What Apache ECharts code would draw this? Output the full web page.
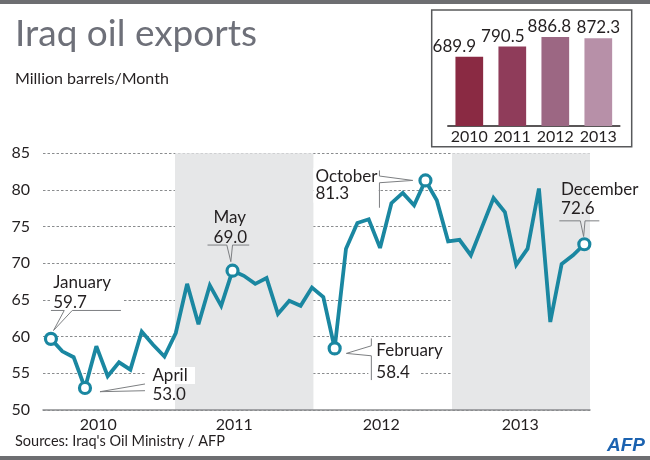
<!DOCTYPE html>
<html>
<head>
<meta charset="utf-8">
<script src="https://cdn.jsdelivr.net/npm/echarts@6/dist/echarts.min.js"></script>
<style>html,body{margin:0;padding:0;background:#fff}#c{width:650px;height:460px}</style>
</head>
<body>
<div id="c"></div>
<script>
// ---- data ----
const years = ['2010', '2011', '2012', '2013'];
const monthNames = ['January','February','March','April','May','June','July','August','September','October','November','December'];
const exports2010 = [59.7, 58.0, 57.2, 53.0, 58.7, 54.6, 56.5, 55.5, 60.7, 58.9, 57.3, 60.5];
const exports2011 = [67.2, 61.7, 67.0, 64.2, 69.0, 68.3, 67.2, 68.0, 63.1, 64.9, 64.2, 66.7];
const exports2012 = [65.4, 58.4, 72.0, 75.5, 76.0, 72.1, 78.2, 79.6, 77.9, 81.3, 78.6, 73.0];
const exports2013 = [73.2, 71.1, 75.0, 78.9, 77.0, 69.8, 72.0, 80.2, 62.0, 69.9, 71.1, 72.6];
const annualTotals = [689.9, 790.5, 886.8, 872.3];
const yMin = 50, yMax = 85, yStep = 5;
const highlightIdx = [0, 3, 16, 25, 33, 47];

// ---- layout / style ----
const FONT = 'Lato';
const TEXT = '#231f20';
const TEAL = '#1a87a1';
const BAND = '#e6e7e8';
const LEAD = '#7d7f82';
const barColors = ['#8a2a43', '#8f3c5a', '#9c6783', '#b790a8'];
const barLabelShift = [-15, -9.5, -6, 0];
const bandRanges = [[10.93, 23.13], [35.34, 47.5]];
const yearLabelPos = [4.17, 16.15, 29.1, 41.35];

// callout layout offsets relative to the marked point
const callouts = [
  { idx: 0, tx: 2.3, ty1: -56.7, ty2: -36.7, bg: '#fff', mask: [0, -66, 72, -29],
    lead: [[0,-28.4],[13.3,-28.4],[2.6,-8.4],[21.3,-28.4],[70,-28.4]] },
  { idx: 3, tx: 67.4, ty1: -12.5, ty2: 6.5, bg: '#fff', mask: [60, -21, 110, -4],
    lead: [[60,-4],[15,3.7],[60,2.7]] },
  { idx: 16, tx: -19, ty1: -52.8, ty2: -33.3, bg: BAND, mask: [-25, -60, 25, -26],
    lead: [[-25,-25.6],[-5.7,-25.6],[-1.7,-9],[0,-25.6],[16.7,-25.6]] },
  { idx: 25, tx: 41.7, ty1: 1.7, ty2: 23.7, bg: '#fff', mask: [33.7, -5, 86, 31.7],
    lead: [[36.7,-10],[36.7,-2.6],[11.7,5],[36.7,7.4],[36.7,31.7]] },
  { idx: 33, tx: -110, ty1: -3.7, ty2: 12.8, bg: '#fff', mask: [-112, -12.7, -47, 22.3],
    lead: [[-46,-10],[-46,-4.4],[-12.7,0],[-46,2.3],[-46,27.3]] },
  { idx: 47, tx: -23.3, ty1: -55.2, ty2: -36.2, bg: BAND, mask: [-28, -63, 5, -24],
    lead: [[-25,-23.4],[-4,-23.4],[-0.7,-7.7],[0.7,-23.4],[15,-23.4]] }
];

const values = [].concat(exports2010, exports2011, exports2012, exports2013);
const lineData = values.map((v, i) => [i, v]);
const pointData = highlightIdx.map(i => [i, values[i]]);

const chart = echarts.init(document.getElementById('c'));

const staticGraphics = [
  { type: 'rect', shape: { x: 0, y: 0, width: 650, height: 4 }, style: { fill: '#6d6e71' }, z: 10 },
  { type: 'rect', shape: { x: 0, y: 456, width: 650, height: 4 }, style: { fill: '#6d6e71' }, z: 10 },
  { type: 'text', x: 15, y: 34, style: { text: 'Iraq oil exports', fill: '#6e7079', fontSize: 37, fontFamily: FONT, verticalAlign: 'middle' }, z: 10 },
  { type: 'text', x: 15, y: 79, style: { text: 'Million barrels/Month', fill: TEXT, fontSize: 16, fontFamily: FONT, verticalAlign: 'middle' }, z: 10 },
  { type: 'text', x: 15, y: 441, style: { text: "Sources: Iraq's Oil Ministry / AFP", fill: TEXT, fontSize: 14.5, fontFamily: FONT, verticalAlign: 'middle' }, z: 10 },
  { type: 'text', x: 645, y: 446, style: { text: 'AFP', fill: '#1b62b0', fontSize: 19, fontWeight: 'bold', fontStyle: 'italic', fontFamily: 'Liberation Sans', align: 'right', verticalAlign: 'middle' }, z: 10 },
  { type: 'rect', shape: { x: 431.7, y: 10, width: 200, height: 136.7 }, style: { fill: null, stroke: '#58595b', lineWidth: 1.5 }, z: 10 }
];

chart.setOption({
  animation: false,
  backgroundColor: '#fff',
  textStyle: { fontFamily: FONT },
  grid: [
    { left: 43, right: 60, top: 153.3, bottom: 50 },
    { left: 447.8, width: 172, top: 25.5, bottom: 334 }
  ],
  xAxis: [
    { type: 'value', gridIndex: 0, min: -0.7, max: 47.5, z: 1,
      axisLine: { show: true, onZero: false, lineStyle: { color: '#8a8c8e', width: 1.5 } },
      axisTick: { show: false }, splitLine: { show: false },
      axisLabel: { customValues: yearLabelPos, formatter: v => years[yearLabelPos.indexOf(v)] || '',
        color: TEXT, fontSize: 16, margin: 7 } },
    { type: 'category', gridIndex: 1, data: years,
      axisLine: { show: true, lineStyle: { color: TEXT, width: 1.5 } },
      axisTick: { show: false },
      axisLabel: { color: TEXT, fontSize: 16, margin: 3, interval: 0, hideOverlap: false } }
  ],
  yAxis: [
    { type: 'value', gridIndex: 0, min: yMin, max: yMax, interval: yStep, z: 1,
      axisLine: { show: false }, axisTick: { show: false },
      axisLabel: { color: TEXT, fontSize: 16, margin: 13 },
      splitLine: { show: true, lineStyle: { color: '#8a8c8e', width: 1, type: [2.5, 2] } } },
    { type: 'value', gridIndex: 1, min: 0, max: 1000, show: false, splitLine: { show: false } }
  ],
  series: [
    { type: 'line', xAxisIndex: 0, yAxisIndex: 0, data: [], z: 0, silent: true,
      markArea: { silent: true, itemStyle: { color: BAND },
        data: bandRanges.map(r => [{ xAxis: r[0] }, { xAxis: r[1] }]) } },
    { type: 'line', xAxisIndex: 0, yAxisIndex: 0, data: lineData, z: 3,
      symbol: 'none', lineStyle: { color: TEAL, width: 3.8, join: 'miter', miterLimit: 3 } },
    { type: 'scatter', xAxisIndex: 0, yAxisIndex: 0, data: pointData, z: 4,
      symbol: 'circle', symbolSize: 11,
      itemStyle: { color: '#fff', borderColor: TEAL, borderWidth: 3.2, opacity: 1 } },
    { type: 'bar', xAxisIndex: 1, yAxisIndex: 1, barWidth: 27.7,
      data: annualTotals.map((v, i) => ({ value: v, itemStyle: { color: barColors[i] },
        label: { offset: [barLabelShift[i], 0] } })),
      label: { show: true, position: 'top', distance: 2, color: TEXT, fontSize: 17,
        formatter: p => p.value.toFixed(1) } }
  ],
  graphic: { elements: staticGraphics }
});

function addCallouts() {
  const els = staticGraphics.slice();
  callouts.forEach(c => {
    const p = chart.convertToPixel({ gridIndex: 0 }, [c.idx, values[c.idx]]);
    const px = p[0], py = p[1];
    els.push({ type: 'rect', z: 2,
      shape: { x: px + c.mask[0], y: py + c.mask[1], width: c.mask[2] - c.mask[0], height: c.mask[3] - c.mask[1] },
      style: { fill: c.bg } });
    els.push({ type: 'polyline', z: 5,
      shape: { points: c.lead.map(o => [px + o[0], py + o[1]]) },
      style: { stroke: LEAD, lineWidth: 1, fill: null } });
    els.push({ type: 'text', z: 5, x: px + c.tx, y: py + c.ty1,
      style: { text: monthNames[c.idx % 12], fill: TEXT, fontSize: 17, fontFamily: FONT, verticalAlign: 'middle' } });
    els.push({ type: 'text', z: 5, x: px + c.tx, y: py + c.ty2,
      style: { text: values[c.idx].toFixed(1), fill: TEXT, fontSize: 17, fontFamily: FONT, verticalAlign: 'middle' } });
  });
  chart.setOption({ graphic: { elements: els } }, { replaceMerge: ['graphic'] });
}
addCallouts();
</script>
</body>
</html>
